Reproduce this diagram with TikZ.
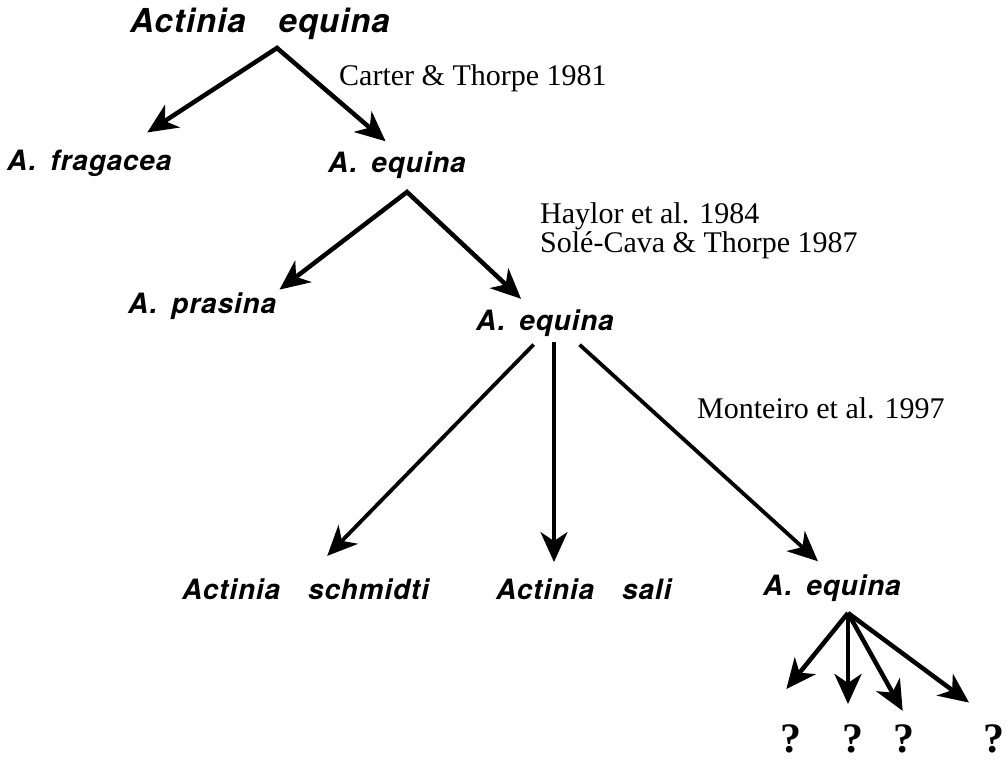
\documentclass[tikz,border=0pt]{standalone}
\usepackage{fontspec}
\setmainfont{Liberation Serif}
\newfontfamily\taxfont{TeX Gyre Heros}[LetterSpace=3]
\usetikzlibrary{arrows.meta, positioning}

\begin{document}
\begin{tikzpicture}[x=1pt,y=-1pt,>={Stealth[length=30pt,width=27pt,inset=9pt]},
  taxon/.style={font=\taxfont\bfseries\itshape\fontsize{28}{32}\selectfont, inner sep=0pt, anchor=base west},
  ref/.style={font=\fontsize{30}{34}\selectfont, inner sep=0pt, anchor=base west},
  query/.style={font=\bfseries\fontsize{42}{44}\selectfont, inner sep=0pt, anchor=base},
  split/.style={line width=4.5pt, line join=miter},
  thinsplit/.style={line width=3.8pt}]
\useasboundingbox (0,0) rectangle (1007,760);

% define the taxa
  \node[taxon, font=\taxfont\bfseries\itshape\fontsize{33}{36}\selectfont]
                     (root)     at (130,33)  {Actinia\hspace{1em}equina};
  \node[taxon]       (fragacea) at (7,170)   {A.\hspace{.5em}fragacea};
  \node[taxon]       (equinaB)  at (328,172) {A.\hspace{.5em}equina};
  \node[taxon]       (prasina)  at (128,313) {A.\hspace{.5em}prasina};
  \node[taxon]       (equinaC)  at (476,330) {A.\hspace{.5em}equina};
  \node[taxon]       (schmidti) at (182,599) {Actinia\hspace{1em}schmidti};
  \node[taxon]       (sali)     at (496,599) {Actinia\hspace{1em}sali};
  \node[taxon]       (equinaD)  at (763,595) {A.\hspace{.5em}equina};

% define the references
  \node[ref] (carter)   at (339,85)  {Carter \& Thorpe 1981};
  \node[ref] (haylor)   at (540,223) {Haylor et al. 1984};
  \node[ref] (solecava) at (540,252) {Solé-Cava \& Thorpe 1987};
  \node[ref] (monteiro) at (697,418) {Monteiro et al. 1997};

% unknown forms
  \node[query] (q1) at (791,752) {?};
  \node[query] (q2) at (853,752) {?};
  \node[query] (q3) at (904,752) {?};
  \node[query] (q4) at (994,752) {?};

% branch points
  \coordinate (fork1) at (277,48);
  \coordinate (fork2) at (407,192);
  \coordinate (fork3) at (554,336);
  \coordinate (fork4) at (848,613);

% define the links
  \draw[<->, split, shorten <=31pt, shorten >=15pt]
    ([xshift=32pt]fragacea.north) -- (fork1) -- (equinaB.north);
  \draw[<->, split, shorten <=4pt, shorten >=15pt]
    (prasina.north east) -- (fork2) -- ([xshift=-13pt]equinaC.north);
  \path[->, thinsplit]
    ([xshift=-12pt]fork3) edge [shorten <=12pt, shorten >=31pt] (schmidti.north)
    (fork3)               edge [shorten <=6pt,  shorten >=16pt] (fork3 |- sali.north)
    ([xshift=16pt]fork3)  edge [shorten <=13pt, shorten >=19pt] (equinaD.north);
  \path[->, split]
    (fork4) edge [shorten >=45pt] ([xshift=-33pt]q1.north)
            edge [shorten >=20pt] (fork4 |- q2.north)
            edge [shorten >=15pt] ([xshift=6pt]q3.north)
            edge [shorten >=36pt] ([xshift=4pt]q4.north);
\end{tikzpicture}
\end{document}
